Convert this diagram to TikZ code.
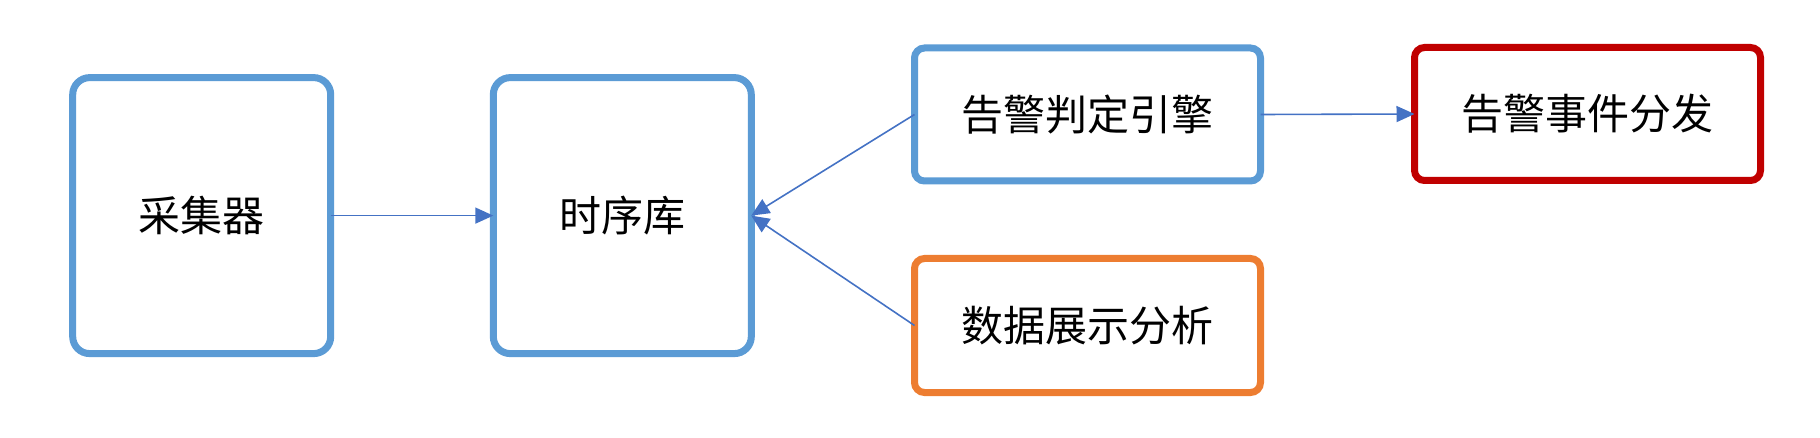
\documentclass[tikz,border=0pt]{standalone}
\usepackage{fontspec}
\setmainfont{Noto Sans CJK SC}
\usetikzlibrary{arrows.meta}
\definecolor{boxblue}{HTML}{5B9BD5}
\definecolor{boxorange}{HTML}{ED7D31}
\definecolor{boxred}{HTML}{C00000}
\definecolor{arrowblue}{HTML}{4472C4}
\tikzset{
  bigbox/.style={draw=boxblue, line width=7pt, rounded corners=17pt, outer sep=0pt,
    minimum width=258pt, minimum height=276pt, inner sep=0pt, font=\fontsize{42pt}{50pt}\selectfont},
  smallbox/.style={line width=7pt, rounded corners=10pt, outer sep=0pt,
    minimum width=346pt, minimum height=133pt, inner sep=0pt, font=\fontsize{42pt}{50pt}\selectfont},
  conn/.style={draw=arrowblue, line width=1.6pt, -{Triangle[length=18pt,width=16pt]}}
}
\begin{document}
\begin{tikzpicture}[x=1pt,y=-1pt]
  \useasboundingbox (0,0) rectangle (1820,438);
  \node[bigbox] (col) at (201.7,215.6) {采集器};
  \node[bigbox] (tsdb) at (622.3,215.6) {时序库};
  \node[smallbox, draw=boxblue] (eng) at (1087.5,114.5) {告警判定引擎};
  \node[smallbox, draw=boxorange, minimum height=134pt] (vis) at (1087.5,325.5) {数据展示分析};
  \node[smallbox, draw=boxred] (dist) at (1587.5,114) {告警事件分发};
  \draw[conn] (col.east) -- (tsdb.west);
  \draw[conn] (eng.west) -- (tsdb.east);
  \draw[conn] (vis.west) -- (tsdb.east);
  \draw[conn] (eng.east) -- (dist.west);
\end{tikzpicture}
\end{document}
